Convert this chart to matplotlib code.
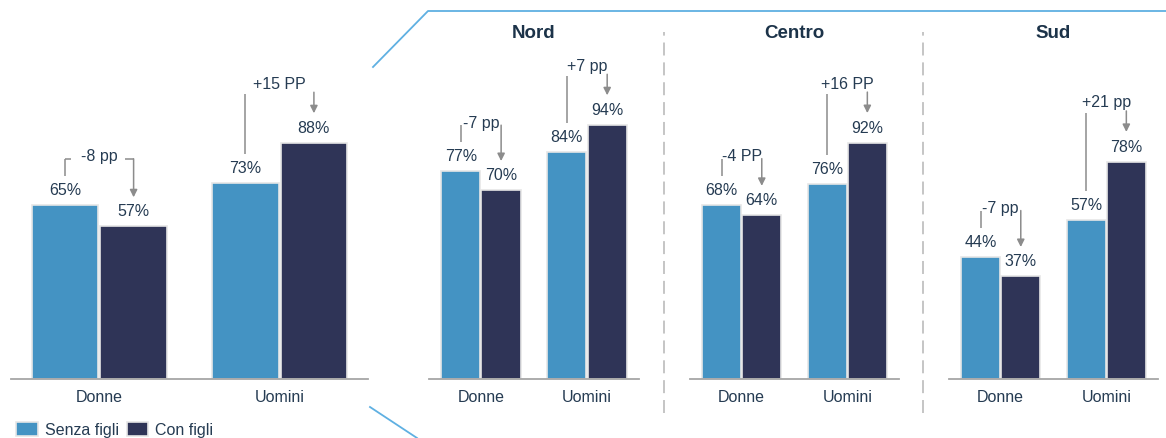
import matplotlib
matplotlib.use('Agg')
import matplotlib.pyplot as plt
from matplotlib.lines import Line2D

# share of employed people, by sex and whether they have children
titles = ['', 'Nord', 'Centro', 'Sud']
groups = ['Donne', 'Uomini']
series = ['Senza figli', 'Con figli']
senza_donne = [65, 77, 68, 44]
con_donne = [57, 70, 64, 37]
senza_uomini = [73, 84, 76, 57]
con_uomini = [88, 94, 92, 78]
gap_donne = ['-8 pp', '-7 pp', '-4 PP', '-7 pp']
gap_uomini = ['+15 PP', '+7 pp', '+16 PP', '+21 pp']

W, H = 1166, 438
C_SENZA = '#4493c3'
C_CON = '#2f3457'
C_TEXT = '#253b52'
C_GREY = '#8c8c8c'
C_BLUE = '#5fb0e2'
FS = 11.5

plt.rcParams['font.family'] = ['Liberation Sans', 'DejaVu Sans']

fig = plt.figure(figsize=(W / 100, H / 100), dpi=100)

# axis-line extents in pixels and y range of each panel
spans = [(11, 368), (429, 639), (690, 899), (949, 1158)]
ymax = [134, 133, 140, 129]
base_px, top_px = 379, 20


def fx(px):
    return px / W


def fy(py):
    return (H - py) / H


def px2d(ax, px):
    lo, hi = ax.get_ylim()
    return px * (hi - lo) / ax.bbox.height


def line(ax, xs, ys):
    ax.plot(xs, ys, color=C_GREY, lw=1.1, solid_capstyle='butt', clip_on=False)


def arrow(ax, x, y0, y1):
    ax.annotate('', xy=(x, y1), xytext=(x, y0),
                arrowprops=dict(arrowstyle='-|>', color=C_GREY, lw=1.1,
                                mutation_scale=11, shrinkA=0, shrinkB=0))


axes = []
for i in range(4):
    l, r = spans[i]
    ax = fig.add_axes([fx(l), fy(base_px), fx(r - l), (base_px - top_px) / H])
    axes.append(ax)
    ax.set_xlim(-0.49, 1.49)
    ax.set_ylim(0, ymax[i])
    for s in ['top', 'left', 'right']:
        ax.spines[s].set_visible(False)
    ax.spines['bottom'].set_color('#a6a6a6')
    ax.spines['bottom'].set_linewidth(1.3)
    ax.set_yticks([])
    ax.set_xticks([0, 1])
    ax.set_xticklabels(groups, fontsize=FS, color=C_TEXT)
    ax.tick_params(axis='x', length=0, pad=8)

    senza = [senza_donne[i], senza_uomini[i]]
    con = [con_donne[i], con_uomini[i]]
    w, off = 0.37, 0.19
    b1 = ax.bar([g - off for g in range(2)], senza, w, color=C_SENZA,
                edgecolor='#e6e6e6', linewidth=1.2, label=series[0])
    b2 = ax.bar([g + off for g in range(2)], con, w, color=C_CON,
                edgecolor='#e6e6e6', linewidth=1.2, label=series[1])
    if i == 0:
        handles = [b1, b2]

    if titles[i]:
        ax.text(0.5, (base_px - 34) / (base_px - top_px), titles[i],
                transform=ax.transAxes, ha='center', va='center',
                fontsize=13.5, fontweight='bold', color='#1c3349')

    gaps = [gap_donne[i], gap_uomini[i]]
    for g in range(2):
        xs, xc = g - off, g + off
        vs, vc = senza[g], con[g]
        for x, v in [(xs, vs), (xc, vc)]:
            ax.text(x, v + px2d(ax, 14.5), f'{v}%', ha='center', va='center',
                    fontsize=FS, color=C_TEXT)
        if vc < vs:
            # drop: short stem on the left, arrow down to the lower bar
            ytxt = vs + px2d(ax, 48)
            line(ax, [xs, xs], [vs + px2d(ax, 29), vs + px2d(ax, 46)])
            arrow(ax, xc, vs + px2d(ax, 46), vc + px2d(ax, 29))
            if i == 0:
                line(ax, [xs, xs + 0.035], [vs + px2d(ax, 46)] * 2)
                line(ax, [xc - 0.045, xc], [vs + px2d(ax, 46)] * 2)
        else:
            # rise: long stem from the left bar, arrow onto the taller one
            ytxt = vc + px2d(ax, 59)
            line(ax, [xs, xs], [vs + px2d(ax, 29), vc + px2d(ax, 49)])
            arrow(ax, xc, vc + px2d(ax, 51), vc + px2d(ax, 30))
        ax.text(g, ytxt, gaps[g], ha='center', va='center', fontsize=FS,
                color=C_TEXT)

# dashed separators between the regional panels
for x in [664, 923]:
    fig.add_artist(Line2D([fx(x)] * 2, [fy(413), fy(32)], color='#b5b5b5',
                          lw=1.1, linestyle=(0, (8.5, 4.5))))

# zoom lines from the national panel to the regional ones
fig.add_artist(Line2D([fx(373), fx(428), fx(1166)], [fy(67), fy(11), fy(11)],
                      color=C_BLUE, lw=1.3))
fig.add_artist(Line2D([fx(370), fx(417)], [fy(407), fy(438)],
                      color=C_BLUE, lw=1.3))

fig.legend(handles=handles, loc='center left', bbox_to_anchor=(fx(16), fy(430)),
           ncol=2, frameon=False, fontsize=FS, labelcolor=C_TEXT,
           handlelength=1.35, handleheight=0.9, handletextpad=0.45,
           columnspacing=0.5, borderpad=0, borderaxespad=0)

fig.savefig('out.png', dpi=100)
